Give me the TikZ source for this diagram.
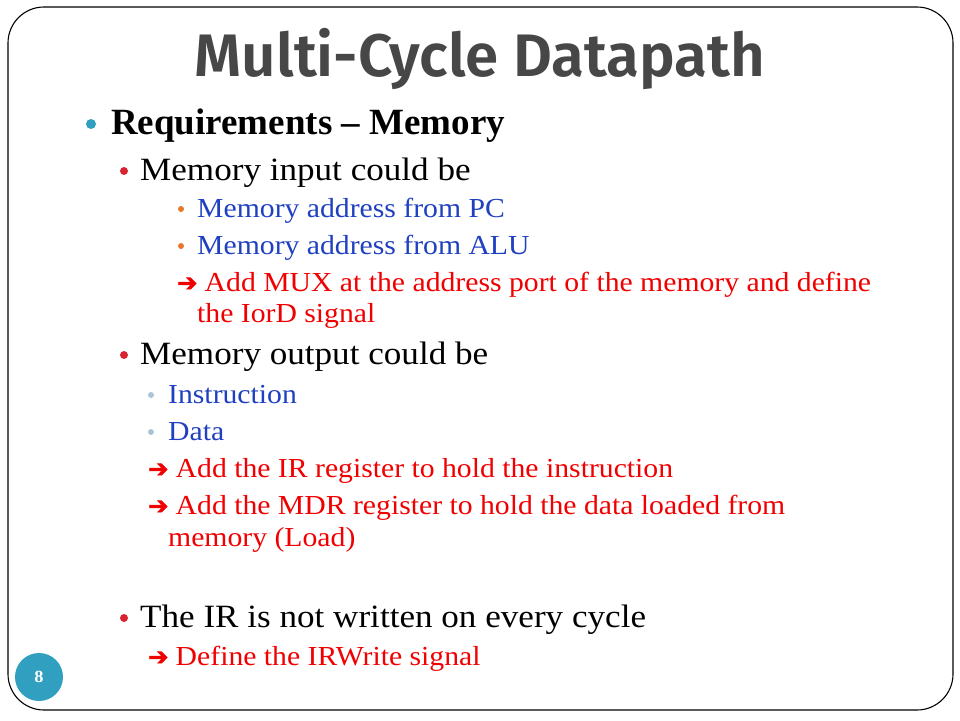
\documentclass[tikz,border=0pt]{standalone}
\usepackage{fontspec}
\setmainfont{Liberation Serif}[FakeStretch=1.08]
\newfontfamily\headfont{Liberation Serif}
\newfontfamily\titlefont{Fira Sans SemiBold}
\newfontfamily\symfont{DejaVu Sans}[FakeBold=2.5]
\definecolor{titlegray}{HTML}{474747}
\definecolor{slideteal}{HTML}{31A0C0}
\definecolor{dotred}{HTML}{D92330}
\definecolor{dotorange}{HTML}{E8782C}
\definecolor{dotpale}{HTML}{A9C6D8}
\definecolor{itemblue}{HTML}{1F40C0}
\definecolor{notered}{HTML}{F00000}
\newcommand{\arw}{{\symfont\fontsize{24}{26}\selectfont ➔}}

\begin{document}
\begin{tikzpicture}[x=1pt,y=-1pt]
\tikzset{item/.style={anchor=base west, inner sep=0pt}}
\tikzset{levelone/.style={item, font=\headfont\fontsize{37}{40}\selectfont\bfseries}}
\tikzset{leveltwo/.style={item, font=\fontsize{32.5}{36}\selectfont}}
\tikzset{levelthree/.style={item, font=\fontsize{27.5}{30}\selectfont, text=itemblue}}
\tikzset{note/.style={item, font=\fontsize{27.5}{30}\selectfont, text=notered}}
\tikzset{dot/.style={circle, inner sep=0pt, minimum size=#1}}
\useasboundingbox (0,0) rectangle (960,720);
% slide frame
\draw[rounded corners=36pt, line width=1.1pt] (8,7) rectangle (953,710);
\node[font=\titlefont\fontsize{60}{62}\selectfont, text=titlegray, anchor=base, inner sep=0pt] (title) at (480,76) {Multi-Cycle Datapath};
% first level
\node[dot=10pt, fill=slideteal] (dreq) at (91,124) {};
\node[levelone] (req) at (111,134) {Requirements – Memory};
% memory input
\node[dot=8pt, fill=dotred] (din) at (124,171) {};
\node[leveltwo] (memin) at (140,180) {Memory input could be};
\node[dot=6pt, fill=dotorange] (dpc) at (181,209) {};
\node[levelthree] (frompc) at (197,217) {Memory address from PC};
\node[dot=6pt, fill=dotorange] (dalu) at (181,246) {};
\node[levelthree] (fromalu) at (197,254) {Memory address from ALU};
\node[note] (mux) at (177,291) {\arw\ Add MUX at the address port of the memory and define};
\node[note] (muxb) at (197,322) {the IorD signal};
% memory output
\node[dot=8pt, fill=dotred] (dout) at (124,355) {};
\node[leveltwo] (memout) at (140,364) {Memory output could be};
\node[dot=6pt, fill=dotpale] (dins) at (151,395) {};
\node[levelthree] (instr) at (168,403) {Instruction};
\node[dot=6pt, fill=dotpale] (ddata) at (151,432) {};
\node[levelthree] (data) at (168,440) {Data};
\node[note] (ir) at (148,477) {\arw\ Add the IR register to hold the instruction};
\node[note] (mdr) at (148,514) {\arw\ Add the MDR register to hold the data loaded from};
\node[note] (mdrb) at (168,546) {memory (Load)};
% IR write
\node[dot=8pt, fill=dotred] (dirw) at (124,618) {};
\node[leveltwo] (irnot) at (140,627) {The IR is not written on every cycle};
\node[note] (irwrite) at (148,665) {\arw\ Define the IRWrite signal};
% page number
\node[circle, fill=slideteal, minimum size=48pt, inner sep=0pt, text=white, font=\fontsize{17}{19}\selectfont\bfseries] (page) at (39,677) {8};
\end{tikzpicture}
\end{document}
